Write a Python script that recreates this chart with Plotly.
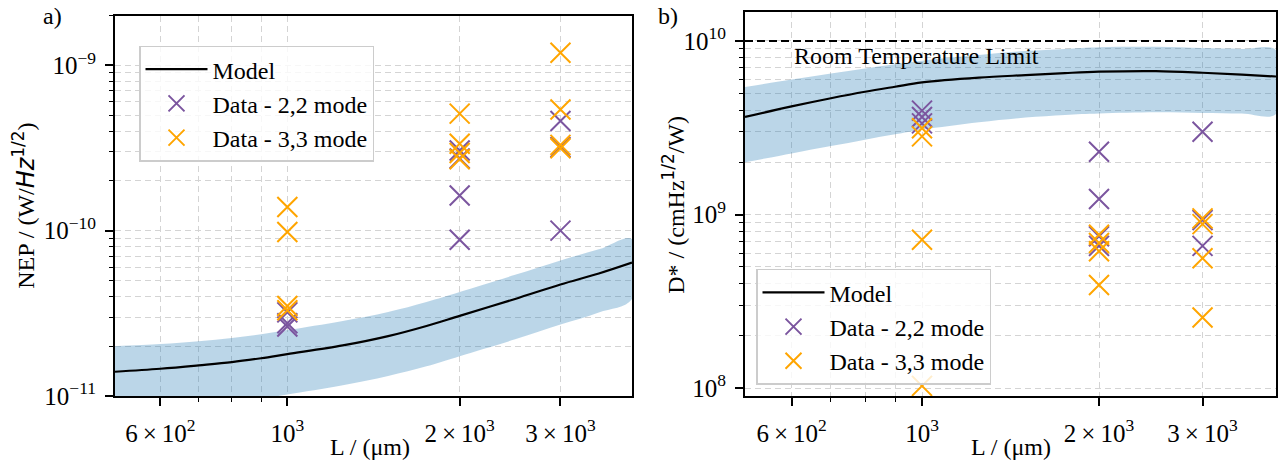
import plotly.graph_objects as go
import math

# ---------------- data ----------------
L_model = [500, 600, 700, 800, 900, 1000, 1250, 1500, 1750, 2000, 2500, 3000, 3500, 4000]
nep_model = [1.40e-11, 1.46e-11, 1.53e-11, 1.60e-11, 1.69e-11, 1.79e-11, 2.02e-11, 2.30e-11,
             2.65e-11, 3.05e-11, 3.86e-11, 4.72e-11, 5.50e-11, 6.40e-11]
nep_upper = [2.00e-11, 2.06e-11, 2.14e-11, 2.24e-11, 2.36e-11, 2.50e-11, 2.84e-11, 3.22e-11,
             3.70e-11, 4.25e-11, 5.40e-11, 6.60e-11, 7.70e-11, 8.90e-11]
nep_lower = [0.80e-11, 0.83e-11, 0.87e-11, 0.91e-11, 0.96e-11, 1.02e-11, 1.16e-11, 1.32e-11,
             1.51e-11, 1.74e-11, 2.20e-11, 2.70e-11, 3.20e-11, 3.86e-11]

dstar_model = [3.65e9, 4.20e9, 4.68e9, 5.10e9, 5.45e9, 5.77e9, 6.15e9, 6.36e9,
               6.53e9, 6.65e9, 6.70e9, 6.56e9, 6.40e9, 6.24e9]
dstar_upper = [5.43e9, 6.00e9, 6.50e9, 6.95e9, 7.35e9, 7.70e9, 8.30e9, 8.75e9,
               9.00e9, 9.20e9, 9.25e9, 9.10e9, 9.00e9, 8.85e9]
dstar_lower = [2.00e9, 2.25e9, 2.48e9, 2.70e9, 2.90e9, 3.08e9, 3.40e9, 3.62e9,
               3.75e9, 3.82e9, 3.88e9, 3.85e9, 3.82e9, 3.80e9]

nep_22_L = [1000, 1000, 1000, 2000, 2000, 2000, 2000, 3000, 3000, 3000]
nep_22 = [3.2e-11, 2.75e-11, 2.63e-11, 3.05e-10, 2.73e-10, 1.63e-10, 0.88e-10, 4.6e-10, 3.2e-10, 1.0e-10]
nep_33_L = [1000, 1000, 1000, 1000, 2000, 2000, 2000, 2000, 3000, 3000, 3000, 3000]
nep_33 = [1.39e-10, 0.98e-10, 3.5e-11, 3.3e-11, 5.1e-10, 3.35e-10, 2.95e-10, 2.7e-10,
          1.19e-9, 5.4e-10, 3.3e-10, 3.15e-10]

dstar_22_L = [1000, 1000, 1000, 2000, 2000, 2000, 2000, 3000, 3000, 3000]
dstar_22 = [3.97e9, 3.65e9, 3.35e9, 2.3e9, 1.23e9, 7.5e8, 6.6e8, 3.0e9, 9.3e8, 6.6e8]
dstar_33_L = [1000, 1000, 1000, 1000, 2000, 2000, 2000, 2000, 3000, 3000, 3000, 3000]
dstar_33 = [3.14e9, 2.82e9, 7.16e8, 1.03e8, 7.65e8, 6.86e8, 6.15e8, 3.93e8, 9.5e8, 8.8e8, 5.6e8, 2.55e8]

room_temp_limit = 1e10
x_range = [500, 4000]

x_tickvals = [600, 1000, 2000, 3000]
x_ticktext = ["6\u2009×\u200910<sup>2</sup>", "10<sup>3</sup>",
              "2\u2009×\u200910<sup>3</sup>", "3\u2009×\u200910<sup>3</sup>"]
x_minor = [700, 800, 900]
nep_tickvals = [1e-11, 1e-10, 1e-9]
nep_ticktext = ["10<sup>−11</sup>", "10<sup>−10</sup>", "10<sup>−9</sup>"]
dstar_tickvals = [1e8, 1e9, 1e10]
dstar_ticktext = ["10<sup>8</sup>", "10<sup>9</sup>", "10<sup>10</sup>"]

# ---------------- style ----------------
FONT = "Liberation Serif"
PURPLE = "#7b559f"
ORANGE = "#ffa500"
BAND = "rgba(31,119,180,0.3)"
GRID = "#d4d4d4"
FS = 24
TFS = 25

nep_minor = [m * 10.0 ** e for e in (-11, -10) for m in range(2, 10)] + [2e-9]
dstar_minor = [m * 10.0 ** e for e in (8, 9) for m in range(2, 10)]

fig = go.Figure()

def add_panel(xa, ya, leg, model, up, lo, d22L, d22, d33L, d33):
    fig.add_trace(go.Scatter(
        x=L_model + L_model[::-1], y=up + lo[::-1], fill="toself", fillcolor=BAND,
        line=dict(width=0), mode="lines", line_shape="spline", showlegend=False,
        hoverinfo="skip", xaxis=xa, yaxis=ya))
    fig.add_trace(go.Scatter(
        x=L_model, y=model, mode="lines", name="Model", line=dict(color="black", width=2.2),
        line_shape="spline", xaxis=xa, yaxis=ya, legend=leg))
    fig.add_trace(go.Scatter(
        x=d22L, y=d22, mode="markers", name="Data - 2,2 mode",
        marker=dict(symbol="x-thin-open", size=20, color=PURPLE, line=dict(color=PURPLE, width=2)),
        xaxis=xa, yaxis=ya, legend=leg))
    fig.add_trace(go.Scatter(
        x=d33L, y=d33, mode="markers", name="Data - 3,3 mode",
        marker=dict(symbol="x-thin-open", size=20, color=ORANGE, line=dict(color=ORANGE, width=2)),
        xaxis=xa, yaxis=ya, legend=leg))

add_panel("x", "y", "legend", nep_model, nep_upper, nep_lower, nep_22_L, nep_22, nep_33_L, nep_33)

fig.add_trace(go.Scatter(
    x=x_range, y=[room_temp_limit, room_temp_limit], mode="lines", showlegend=False,
    line=dict(color="black", width=2, dash="8px,4px"), xaxis="x2", yaxis="y2"))

add_panel("x2", "y2", "legend2", dstar_model, dstar_upper, dstar_lower,
          dstar_22_L, dstar_22, dstar_33_L, dstar_33)

W, H = 1278, 472

def xaxis(domain, anchor):
    return dict(
        type="log", range=[math.log10(x_range[0]), math.log10(x_range[1])], domain=domain,
        anchor=anchor, tickmode="array", tickvals=x_tickvals, ticktext=x_ticktext,
        ticks="outside", ticklen=8, tickwidth=1.5, tickcolor="black", ticklabelstandoff=6,
        showline=True, linecolor="black", linewidth=1.8, mirror=True,
        showgrid=True, gridcolor=GRID, gridwidth=1.2, griddash="6px,4px",
        tickfont=dict(family=FONT, size=TFS, color="black"),
        minor=dict(tickmode="array", tickvals=x_minor, ticks="outside", ticklen=4.5,
                   tickwidth=1.2, tickcolor="black", showgrid=True, gridcolor=GRID,
                   gridwidth=1.2, griddash="6px,4px"),
        zeroline=False)

def yaxis(domain, rng, tv, tt, minor, anchor):
    return dict(
        type="log", range=rng, domain=domain, anchor=anchor,
        tickmode="array", tickvals=tv, ticktext=tt,
        ticks="outside", ticklen=8, tickwidth=1.5, tickcolor="black", ticklabelstandoff=4,
        showline=True, linecolor="black", linewidth=1.8, mirror=True,
        showgrid=True, gridcolor=GRID, gridwidth=1.2, griddash="6px,4px",
        tickfont=dict(family=FONT, size=TFS, color="black"),
        minor=dict(tickmode="array", tickvals=minor, ticks="outside", ticklen=4.5,
                   tickwidth=1.2, tickcolor="black", showgrid=True, gridcolor=GRID,
                   gridwidth=1.2, griddash="6px,4px"),
        zeroline=False)

xa1 = xaxis([115 / W, 632 / W], "y")
xa2 = xaxis([745 / W, 1276 / W], "y2")
ya1 = yaxis([1 - 408 / H, 1 - 16 / H], [-11, math.log10(2e-9)], nep_tickvals, nep_ticktext, nep_minor, "x")
ya2 = yaxis([1 - 408 / H, 1 - 12 / H], [7.955, 10.169], dstar_tickvals, dstar_ticktext, dstar_minor, "x2")

legend_style = dict(
    bgcolor="rgba(255,255,255,0.8)", bordercolor="#cccccc", borderwidth=1.5,
    font=dict(family=FONT, size=FS, color="black"), xanchor="left", yanchor="top",
    itemwidth=62, tracegroupgap=0)

def ann(text, x, y, size=FS, angle=0):
    return dict(text=text, x=x / W, y=1 - y / H, xref="paper", yref="paper",
                xanchor="center", yanchor="middle", textangle=angle,
                showarrow=False, font=dict(family=FONT, size=size, color="black"))

fig.update_layout(
    width=W, height=H, margin=dict(l=0, r=0, t=0, b=0),
    paper_bgcolor="white", plot_bgcolor="white",
    font=dict(family=FONT, size=FS, color="black"),
    xaxis=xa1, yaxis=ya1, xaxis2=xa2, yaxis2=ya2,
    legend=dict(x=139 / W, y=1 - 47 / H, **legend_style),
    legend2=dict(x=756 / W, y=1 - 277 / H, **legend_style),
    annotations=[
        ann("a)", 52, 16, 24),
        ann("b)", 668, 17, 24),
        ann("NEP / (W/<span style='font-family:DejaVu Sans'><i>Hz</i><sup>1/2</sup></span>)",
            24, 212, FS, -90),
        ann("D* / (cmHz<span style='font-family:DejaVu Sans'><sup>1/2</sup></span>/W)",
            674, 211, FS, -90),
        ann("L / (μm)", 370, 461),
        ann("L / (μm)", 1011, 461),
        dict(text="Room Temperature Limit", x=math.log10(601), y=9.912, xref="x2", yref="y2",
             xanchor="left", yanchor="middle", showarrow=False,
             font=dict(family=FONT, size=FS, color="black")),
    ],
)

fig.write_html("out.html")
